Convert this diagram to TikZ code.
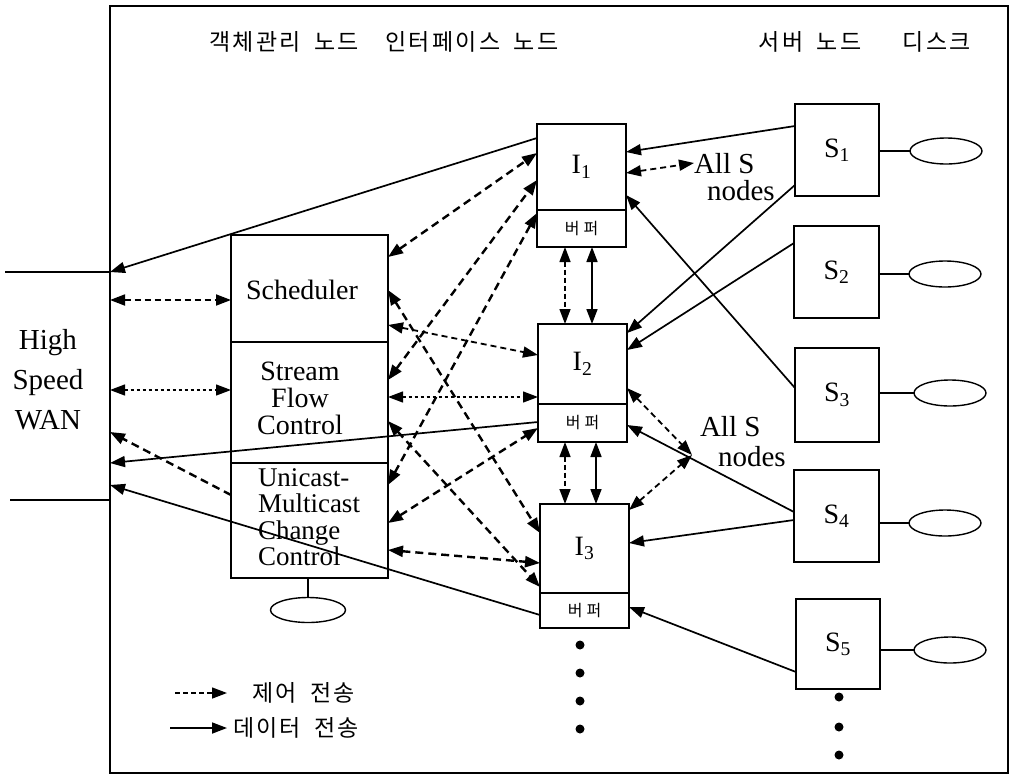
\documentclass[tikz,border=0pt]{standalone}
\usepackage{fontspec}
\setmainfont{Liberation Serif}
\newfontfamily\kr[LetterSpace=10]{Noto Sans CJK KR}
\usetikzlibrary{arrows.meta,shapes.geometric}
\begin{document}
\begin{tikzpicture}[x=1pt,y=-1pt,
  >={Triangle[length=15pt,width=11pt]},
  every node/.style={inner sep=0pt, outer sep=0pt},
  en/.style={font=\fontsize{28}{27}\selectfont},
  box/.style={draw, line width=1.6pt},
  disk/.style={draw, ellipse, line width=1.4pt, minimum width=72pt, minimum height=26pt},
  hdr/.style={font=\kr\fontsize{23}{23}\selectfont},
  buf/.style={font=\kr\fontsize{16}{16}\selectfont},
  thin/.style={line width=1.4pt},
  data/.style={line width=1.7pt, ->},
  ddata/.style={line width=1.7pt, <->},
  ctrl/.style={line width=2.4pt, dash pattern=on 8pt off 5pt, <->},
  ctrlone/.style={line width=2.4pt, dash pattern=on 8pt off 5pt, ->},
  ctrlm/.style={line width=1.8pt, dash pattern=on 6pt off 4pt, <->},
  ctrld/.style={line width=1.3pt, dash pattern=on 3pt off 3pt, <->},
  ctrlv/.style={line width=1.4pt, dash pattern=on 5pt off 3pt, <->},
]
\useasboundingbox (0,0) rectangle (1012,777);

% outer frame
\node[draw, line width=1.4pt, minimum width=898pt, minimum height=767pt] (frame) at (559,389.5) {};

% headers
\node[hdr] (h1) at (284,42) {객체관리\hspace{6pt} 노드};
\node[hdr] (h2) at (472,42) {인터페이스\hspace{6pt} 노드};
\node[hdr] (h3) at (810,42) {서버\hspace{6pt} 노드};
\node[hdr] (h4) at (937,42) {디스크};

% WAN
\coordinate (wanA) at (5,272);
\coordinate (wanB) at (10,500);
\draw[thin] (wanA) -- (frame.west |- wanA);
\draw[thin] (wanB) -- (frame.west |- wanB);
\node[font=\fontsize{29}{40}\selectfont, align=center] (wan) at (48,380) {High\\Speed\\WAN};

% object management node
\node[box, minimum width=157pt, minimum height=107pt] (sch) at (309.5,288.5) {};
\node[box, minimum width=157pt, minimum height=121pt] (sfc) at (309.5,402.5) {};
\node[box, minimum width=157pt, minimum height=115pt] (umc) at (309.5,520.5) {};
\draw[line width=2.4pt] (sfc.south west) -- (sfc.south east);
\node[en] (schT) at (302,290) {Scheduler};
\node[en, align=center] (sfcT) at (300,398) {Stream\\Flow\\Control};
\node[font=\fontsize{27}{26.5}\selectfont, align=left, anchor=west] (umcT) at (258,517) {Unicast-\\Multicast\\Change\\Control};
\node[disk, minimum width=75pt, minimum height=25pt] (d0) at (308,610) {};
\draw[thin] (umc.south -| d0.north) -- (d0.north);

% interface nodes
\node[box, en, minimum width=89pt, minimum height=86pt] (I1) at (581.5,167) {I\textsubscript{1}};
\node[box, buf, minimum width=89pt, minimum height=37pt] (b1) at (581.5,228.5) {버\hspace{4pt}퍼};
\node[box, en, minimum width=89pt, minimum height=80pt] (I2) at (582.5,364) {I\textsubscript{2}};
\node[box, buf, minimum width=89pt, minimum height=38pt] (b2) at (582.5,423) {버\hspace{4pt}퍼};
\node[box, en, minimum width=89pt, minimum height=89pt] (I3) at (584.5,548.5) {I\textsubscript{3}};
\node[box, buf, minimum width=89pt, minimum height=35pt] (b3) at (584.5,610.5) {버\hspace{4pt}퍼};
\foreach \yy in {645,673,701,729} \fill (580,\yy) circle (4.5pt);

% server nodes
\node[box, en, minimum width=84pt, minimum height=92pt] (S1) at (837,150) {S\textsubscript{1}};
\node[box, en, minimum width=85pt, minimum height=92pt] (S2) at (836.5,272) {S\textsubscript{2}};
\node[box, en, minimum width=84pt, minimum height=94pt] (S3) at (837,395) {S\textsubscript{3}};
\node[box, en, minimum width=85pt, minimum height=92pt] (S4) at (836.5,516) {S\textsubscript{4}};
\node[box, en, minimum width=84pt, minimum height=90pt] (S5) at (838,644) {S\textsubscript{5}};
\foreach \yy in {697,727,755} \fill (839,\yy) circle (4.5pt);

% disks
\node[disk] (d1) at (946,151) {};
\node[disk] (d2) at (945,274) {};
\node[disk] (d3) at (950,393) {};
\node[disk] (d4) at (945,523) {};
\node[disk] (d5) at (950,650) {};
\draw[thin] (S1.east |- d1.west) -- (d1.west);
\draw[thin] (S2.east |- d2.west) -- (d2.west);
\draw[thin] (S3.east |- d3.west) -- (d3.west);
\draw[thin] (S4.east |- d4.west) -- (d4.west);
\draw[thin] (S5.east |- d5.west) -- (d5.west);

% All S nodes labels
\node[font=\fontsize{29}{27}\selectfont, align=left, anchor=west] (all1) at (694,177) {All S\\\hspace{13pt}nodes};
\node[font=\fontsize{29}{30}\selectfont, align=left, anchor=west] (all2) at (700,442) {All S\\\hspace{18pt}nodes};
\coordinate (conv) at (692,455);

% data transfers
\draw[data] (I1.west |- 0,138) -- (frame.west |- 0,272);
\draw[data] (b2.west |- 0,422) -- (frame.west |- 0,463);
\draw[data] (b3.west |- 0,615) -- (frame.west |- 0,485);
\draw[data] (S1.west |- 0,126) -- (I1.east |- 0,152);
\draw[data] (S1.west |- 0,185) -- (I2.east |- 0,333);
\draw[data] (S2.west |- 0,243) -- (I2.east |- 0,350);
\draw[data] (S3.west |- 0,388) -- (I1.east |- 0,195);
\draw[data] (S4.west |- 0,512) -- (b2.east |- 0,425);
\draw[data] (S4.west |- 0,520) -- (I3.east |- 0,543);
\draw[data] (S5.west |- 0,672) -- (b3.east |- 0,607);
\draw[ddata] (b1.south -| 592,0) -- (I2.north -| 592,0);
\draw[ctrlv] (b1.south -| 565,0) -- (I2.north -| 565,0);
\draw[ddata] (b2.south -| 596,0) -- (I3.north -| 596,0);
\draw[ctrlv] (b2.south -| 565,0) -- (I3.north -| 565,0);

% control transfers
\draw[ctrl] (sch.east |- 0,257) -- (I1.west |- 0,153);
\draw[ctrl] (sfc.east |- 0,380) -- (I1.west |- 0,180);
\draw[ctrl] (umc.east |- 0,485) -- (b1.west |- 0,213);
\draw[ctrl] (sch.east |- 0,290) -- (I3.west |- 0,533);
\draw[ctrlm] (sch.east |- 0,325) -- (I2.west |- 0,355);
\draw[ctrld] (sfc.east |- 0,397) -- (I2.west |- 0,397);
\draw[ctrl] (sfc.east |- 0,421) -- (I3.west |- 0,587);
\draw[ctrl] (umc.east |- 0,523) -- (b2.west |- 0,428);
\draw[ctrl] (umc.east |- 0,550) -- (I3.west |- 0,563);
\draw[ctrlm] (frame.west |- 0,300) -- (sch.west |- 0,300);
\draw[ctrld] (frame.west |- 0,390) -- (sfc.west |- 0,390);
\draw[ctrlone] (umc.west |- 0,495) -- (frame.west |- 0,432);
\draw[ctrlm] (I1.east |- 0,173) -- (all1.west |- 0,163);
\draw[ctrlm] (I2.east |- 0,388) -- (conv);
\draw[ctrlm] (I3.east |- 0,510) -- (conv);

% legend
\coordinate (lgA) at (175,693);
\coordinate (lgB) at (227,693);
\coordinate (lgC) at (170,728);
\coordinate (lgD) at (227,728);
\draw[line width=1.4pt, dash pattern=on 5pt off 3pt, ->] (lgA) -- (lgB);
\draw[line width=1.7pt, ->] (lgC) -- (lgD);
\node[hdr, anchor=west] (lg1) at (252,693) {제어\hspace{6pt} 전송};
\node[hdr, anchor=west] (lg2) at (233,728) {데이터\hspace{6pt} 전송};
\end{tikzpicture}
\end{document}
